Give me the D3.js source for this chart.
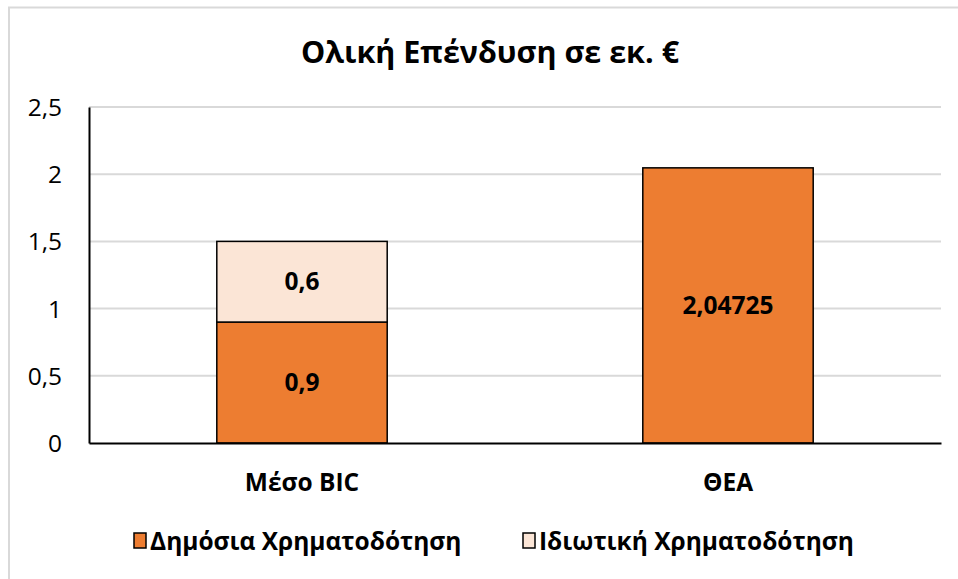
<!DOCTYPE html>
<html>
<head>
<meta charset="utf-8">
<script src="https://cdn.jsdelivr.net/npm/d3@7"></script>
<style>
  body { margin: 0; background: #fff; }
  svg text { font-family: 'Open Sans', 'Noto Sans', sans-serif; fill: #000; }
</style>
</head>
<body>
<svg id="chart" width="958" height="579"></svg>
<script>
// data
const categories = ['Μέσο BIC', 'ΘΕΑ'];
const publicFunding = [0.9, 2.04725];
const privateFunding = [0.6, 0];
const seriesNames = ['Δημόσια Χρηματοδότηση', 'Ιδιωτική Χρηματοδότηση'];
const seriesColors = ['#ED7D31', '#FBE5D6'];
const yTicks = [0, 0.5, 1, 1.5, 2, 2.5];

const width = 958;
const height = 579;
const margin = { top: 107, right: 17, bottom: 136, left: 89 };
const fontSize = '24.5px';

const svg = d3.select('#chart');

// outer chart border (only top and left visible)
svg.append('path')
  .attr('d', `M9,${height} V7.5 H${width}`)
  .attr('fill', 'none')
  .attr('stroke', '#d9d9d9')
  .attr('stroke-width', 2);

svg.append('text')
  .attr('x', 490)
  .attr('y', 63)
  .attr('text-anchor', 'middle')
  .style('font-size', '30.5px')
  .style('font-weight', 'bold')
  .text('Ολική Επένδυση σε εκ. €');

const x = d3.scaleBand()
  .domain(categories)
  .range([margin.left, width - margin.right])
  .paddingInner(0.6)
  .paddingOuter(0.3);

const y = d3.scaleLinear()
  .domain([0, 2.5])
  .range([height - margin.bottom, margin.top]);

const fmt = (v) => String(v).replace('.', ',');

// gridlines
svg.append('g')
  .selectAll('line')
  .data(yTicks.filter((d) => d > 0))
  .join('line')
  .attr('x1', margin.left)
  .attr('x2', width - margin.right)
  .attr('y1', (d) => y(d))
  .attr('y2', (d) => y(d))
  .attr('stroke', '#d9d9d9')
  .attr('stroke-width', 2);

// y axis labels
const yAxis = svg.append('g')
  .attr('transform', `translate(${margin.left},0)`)
  .call(d3.axisLeft(y).tickValues(yTicks).tickFormat(fmt).tickSize(0).tickPadding(27));
yAxis.select('.domain').attr('stroke', '#000').attr('stroke-width', 2);
yAxis.selectAll('text').style('font-size', fontSize).attr('dy', '0.35em');

// stacked bars
const stackData = categories.map((c, i) => ({ cat: c, pub: publicFunding[i], priv: privateFunding[i] }));
const stack = d3.stack().keys(['pub', 'priv'])(stackData);

const layers = svg.append('g')
  .selectAll('g')
  .data(stack)
  .join('g')
  .attr('fill', (d, i) => seriesColors[i]);

layers.selectAll('rect')
  .data((d) => d.filter((s) => s[1] - s[0] > 0))
  .join('rect')
  .attr('x', (d) => x(d.data.cat))
  .attr('width', x.bandwidth())
  .attr('y', (d) => y(d[1]))
  .attr('height', (d) => y(d[0]) - y(d[1]))
  .attr('stroke', '#000')
  .attr('stroke-width', 1.5);

// value labels
layers.selectAll('text')
  .data((d) => d.filter((s) => s[1] - s[0] > 0))
  .join('text')
  .attr('x', (d) => x(d.data.cat) + x.bandwidth() / 2)
  .attr('y', (d) => y((d[0] + d[1]) / 2))
  .attr('dy', '0.35em')
  .attr('text-anchor', 'middle')
  .style('font-size', fontSize)
  .style('font-weight', 'bold')
  .text((d) => fmt(d[1] - d[0]));

// x axis
const xAxis = svg.append('g')
  .attr('transform', `translate(0,${height - margin.bottom})`)
  .call(d3.axisBottom(x).tickSize(0).tickPadding(31));
xAxis.select('.domain').attr('stroke', '#000').attr('stroke-width', 2);
xAxis.selectAll('text').style('font-size', fontSize).style('font-weight', 'bold');

// legend
const legendX = [134, 523];
const legend = svg.append('g')
  .selectAll('g')
  .data(seriesNames)
  .join('g')
  .attr('transform', (d, i) => `translate(${legendX[i]},533)`);
legend.append('rect')
  .attr('width', 12)
  .attr('height', 15)
  .attr('fill', (d, i) => seriesColors[i])
  .attr('stroke', '#000')
  .attr('stroke-width', 1.5);
legend.append('text')
  .attr('x', 16)
  .attr('y', 8)
  .attr('dy', '0.35em')
  .style('font-size', fontSize)
  .style('font-weight', 'bold')
  .text((d) => d);
</script>
</body>
</html>
